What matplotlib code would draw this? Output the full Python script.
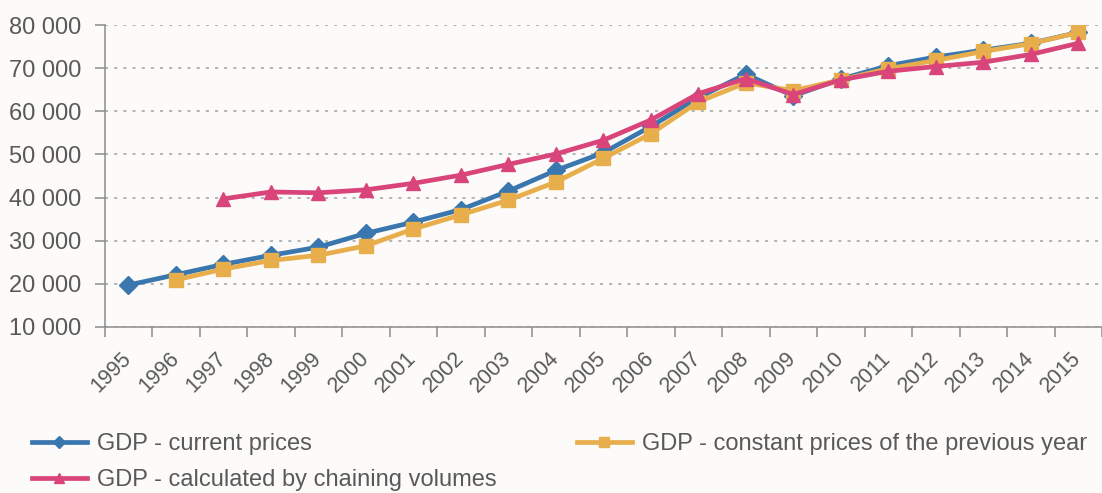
import numpy as np
import matplotlib.pyplot as plt
from matplotlib.ticker import FuncFormatter, FixedLocator

plt.rcParams['font.family'] = ['Liberation Sans', 'DejaVu Sans']

# Data
years = [str(y) for y in range(1995, 2016)]
current = [19700, 22100, 24500, 26600, 28500, 31700, 34300, 37200, 41500, 46300,
           50400, 56500, 63200, 68600, 63600, 67500, 70600, 72600, 74200, 75800, 78300]
constant = [None, 20900, 23400, 25400, 26600, 28800, 32700, 36000, 39400, 43600,
            49100, 54800, 62200, 66600, 64800, 67300, 69900, 71800, 73900, 75700, 78300]
chained = [None, None, 39700, 41300, 41100, 41800, 43300, 45200, 47700, 50100,
           53300, 58000, 64100, 67600, 63900, 67300, 69300, 70400, 71400, 73200, 75800]

blue = '#3A77AE'
gold = '#E8AE4C'
pink = '#D9457A'
grey = '#8C8C8C'
text_c = '#595959'
bg = '#FCFBF9'

x = np.arange(len(years))

def to_arr(v):
    return np.array([np.nan if a is None else a for a in v], dtype=float)

fig = plt.figure(figsize=(11.02, 4.93), dpi=100, facecolor=bg)
ax = fig.add_axes([0.095, 0.337, 0.905, 0.612], facecolor=bg)

l1, = ax.plot(x, to_arr(current), color=blue, lw=3.4, marker='D', ms=9,
              label='GDP - current prices', zorder=3)
l2, = ax.plot(x, to_arr(constant), color=gold, lw=3.4, marker='s', ms=10,
              label='GDP - constant prices of the previous year', zorder=4)
l3, = ax.plot(x, to_arr(chained), color=pink, lw=3.4, marker='^', ms=10,
              label='GDP - calculated by chaining volumes', zorder=5)

ax.set_xlim(-0.5, len(years) - 0.5)
ax.set_ylim(10000, 80000)
ax.set_yticks(np.arange(10000, 80001, 10000))
ax.yaxis.set_major_formatter(FuncFormatter(lambda v, p: f'{int(v):,}'.replace(',', ' ')))
ax.grid(axis='y', color='#A0A0A0', ls=(0, (2, 4)), lw=1.1)
ax.set_axisbelow(True)

# labels sit a little left of the category centre, tick marks between categories
ax.set_xticks(x - 0.16)
ax.set_xticklabels(years, rotation=45, ha='right', rotation_mode='anchor')
ax.xaxis.set_minor_locator(FixedLocator(np.arange(-0.5, len(years), 1)))
ax.tick_params(axis='x', which='major', length=0, pad=15, labelsize=15.5, labelcolor=text_c)
ax.tick_params(axis='x', which='minor', length=7, color=grey, width=1.1)
ax.tick_params(axis='y', length=7, color=grey, width=1.1, labelsize=17, labelcolor=text_c, pad=10)

for s in ['top', 'right']:
    ax.spines[s].set_visible(False)
for s in ['left', 'bottom']:
    ax.spines[s].set_color(grey)
    ax.spines[s].set_linewidth(1.1)

fig.legend(handles=[l1, l3, l2], loc='upper left', bbox_to_anchor=(0.029, 0.122),
           ncol=2, frameon=False, fontsize=17, handlelength=2.33, handletextpad=0.42,
           columnspacing=3.4, labelspacing=0.62, borderaxespad=0, borderpad=0,
           markerscale=0.7, labelcolor=text_c)

fig.savefig('out.png', dpi=100, facecolor=bg)
